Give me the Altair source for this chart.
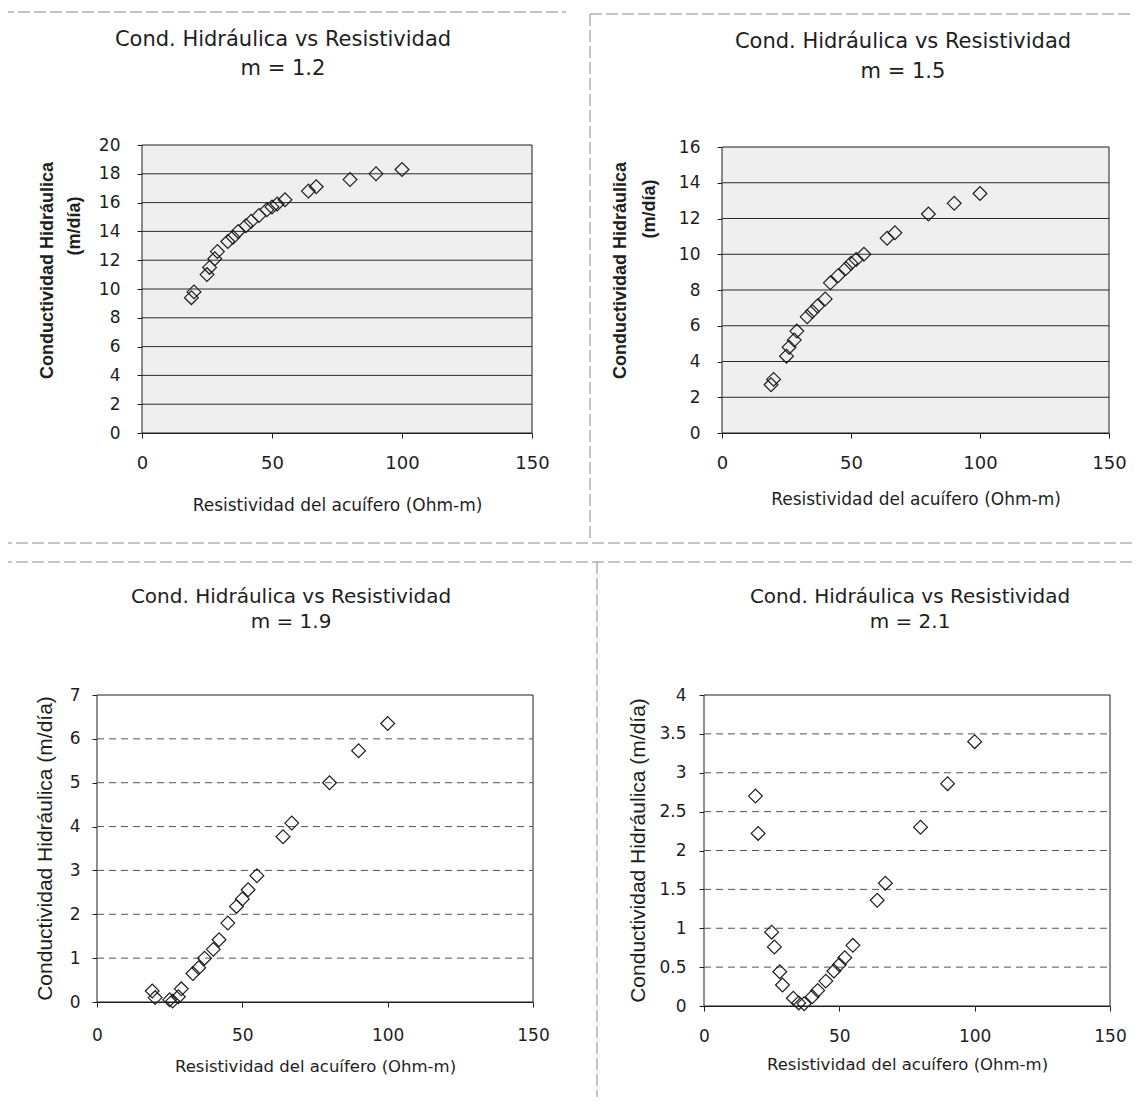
import altair as alt
import pandas as pd

# ---------------- data ----------------
rho = [19, 20, 25, 26, 28, 29, 33, 35, 37, 40, 42, 45, 48, 50, 52, 55, 64, 67, 80, 90, 100]
k_m12 = [9.4, 9.8, 11.0, 11.5, 12.1, 12.6, 13.3, 13.6, 14.0, 14.4, 14.7, 15.1, 15.5, 15.7, 15.9,
         16.2, 16.8, 17.1, 17.6, 18.0, 18.3]
k_m15 = [2.7, 3.0, 4.3, 4.8, 5.2, 5.7, 6.5, 6.8, 7.1, 7.5, 8.4, 8.8, 9.2, 9.5, 9.7,
         10.0, 10.9, 11.2, 12.25, 12.85, 13.4]
k_m19 = [0.25, 0.1, 0.05, 0.02, 0.12, 0.3, 0.65, 0.78, 1.0, 1.2, 1.42, 1.8, 2.18, 2.35, 2.56,
         2.88, 3.77, 4.08, 5.0, 5.73, 6.35]
k_m21 = [2.70, 2.22, 0.95, 0.76, 0.44, 0.27, 0.10, 0.04, 0.03, 0.12, 0.20, 0.32, 0.45, 0.53, 0.62,
         0.78, 1.36, 1.58, 2.30, 2.86, 3.40]

chart_title = "Cond. Hidráulica vs Resistividad"
m_labels = ["m = 1.2", "m = 1.5", "m = 1.9", "m = 2.1"]
x_title = "Resistividad del acuífero (Ohm-m)"
y_title = "Conductividad Hidráulica"
y_unit = "(m/día)"
x_ticks = [0, 50, 100, 150]
y_ticks_m12 = [0, 2, 4, 6, 8, 10, 12, 14, 16, 18, 20]
y_ticks_m15 = [0, 2, 4, 6, 8, 10, 12, 14, 16]
y_ticks_m19 = [0, 1, 2, 3, 4, 5, 6, 7]
y_ticks_m21 = [0, 0.5, 1, 1.5, 2, 2.5, 3, 3.5, 4]

# ---------------- layout ----------------
W, H = 1124, 1089
M = 8  # page margin


def P(v):
    return v - M


HF = "DejaVu Sans"
VF = "Liberation Sans"
INK = "#1e1e1e"


def panel(k, yt, box, fill, grid_color, grid_dash, ylab, xlab, ytitle):
    L, R, T, B = box
    ymax = yt[-1]
    xs = alt.Scale(domain=[0, 150], range=[P(L), P(R)], nice=False, zero=False)
    ys = alt.Scale(domain=[0, ymax], range=[P(B), P(T)], nice=False, zero=False)
    df_pts = pd.DataFrame({"rho": rho, "k": k})
    df_bg = pd.DataFrame({"x0": [0], "x1": [150], "y0": [0], "y1": [ymax]})
    df_grid = pd.DataFrame({"g": yt[1:-1]})
    df_grid["x0"] = 0
    df_grid["x1"] = 150

    yaxis = alt.Axis(
        orient="left", offset=-P(L), values=yt, format="~g", grid=False,
        domainColor=INK, tickColor=INK, tickSize=5,
        labelFont=HF, labelFontSize=ylab["size"], labelColor=INK, labelPadding=ylab["pad"],
        labelOverlap=False,
        title=ytitle["text"], titleFont=VF, titleFontSize=ytitle["size"],
        titleFontWeight=ytitle["weight"], titleColor=INK, titleAngle=270,
        titleBaseline="middle", titleAlign="center",
        titleX=ytitle["x"] - L, titleY=P(ytitle["y"]))
    xaxis = alt.Axis(
        orient="bottom", offset=P(B) - H, values=x_ticks, grid=False,
        domainColor=INK, tickColor=INK, tickSize=5, labelFlush=False, labelOverlap=False,
        labelFont=HF, labelFontSize=xlab["size"], labelColor=INK, labelPadding=xlab["pad"],
        title=x_title, titleFont=HF, titleFontSize=xlab["tsize"], titleFontWeight="normal",
        titleColor=INK, titleBaseline="middle", titleY=xlab["ty"] - B)

    bg = alt.Chart(df_bg).mark_rect(fill=fill, stroke=INK, strokeWidth=1).encode(
        x=alt.X("x0:Q", scale=xs, axis=xaxis, title=x_title), x2="x1:Q",
        y=alt.Y("y0:Q", scale=ys, axis=yaxis, title=ytitle["text"]), y2="y1:Q")

    rule_kw = dict(color=grid_color, strokeWidth=1)
    if grid_dash:
        rule_kw["strokeDash"] = grid_dash
    grid = alt.Chart(df_grid).mark_rule(**rule_kw).encode(
        x=alt.X("x0:Q", scale=xs, axis=xaxis, title=x_title), x2="x1:Q",
        y=alt.Y("g:Q", scale=ys, axis=yaxis, title=ytitle["text"]))

    pts = alt.Chart(df_pts).mark_point(
        shape="diamond", filled=False, size=190, stroke=INK, strokeWidth=1.2, opacity=1
    ).encode(
        x=alt.X("rho:Q", scale=xs, axis=xaxis, title=x_title),
        y=alt.Y("k:Q", scale=ys, axis=yaxis, title=ytitle["text"]))
    return alt.layer(bg, grid, pts)


p1 = panel(k_m12, y_ticks_m12, (142, 532, 145, 433), "#efefef", "#2a2a2a", None,
           dict(size=17, pad=17), dict(size=18, pad=16, tsize=17, ty=505),
           dict(text=y_title, size=18, weight="bold", x=47, y=270))
p2 = panel(k_m15, y_ticks_m15, (722, 1109, 147, 433), "#efefef", "#2a2a2a", None,
           dict(size=17, pad=17), dict(size=18, pad=16, tsize=17, ty=499),
           dict(text=y_title, size=18, weight="bold", x=620, y=270))
p3 = panel(k_m19, y_ticks_m19, (97, 533, 695, 1002), "#ffffff", "#555555", [7, 5],
           dict(size=17, pad=12), dict(size=17, pad=20, tsize=16.5, ty=1066),
           dict(text=y_title + " " + y_unit, size=21, weight="normal", x=45, y=848))
p4 = panel(k_m21, y_ticks_m21, (704, 1110, 695, 1006), "#ffffff", "#555555", [7, 5],
           dict(size=17, pad=13), dict(size=17, pad=17, tsize=16.5, ty=1064),
           dict(text=y_title + " " + y_unit, size=21, weight="normal", x=638, y=850))

one = pd.DataFrame({"a": [0]})


def text(t, x, y, size, weight="normal", angle=0, font=HF):
    return alt.Chart(one).mark_text(
        text=t, font=font, fontSize=size, fontWeight=weight, angle=angle,
        align="center", baseline="middle", color=INK
    ).encode(x=alt.value(P(x)), y=alt.value(P(y)))


titles = [
    text(chart_title, 283, 40, 21), text(m_labels[0], 283, 69, 21),
    text(chart_title, 903, 42, 21), text(m_labels[1], 903, 72, 21),
    text(chart_title, 291, 597, 20), text(m_labels[2], 291, 622, 20),
    text(chart_title, 910, 597, 20), text(m_labels[3], 910, 622, 20),
    text(y_unit, 75, 226, 18, "bold", 270, VF),
    text(y_unit, 650, 209, 18, "bold", 270, VF),
]


def hline(x1, x2, y):
    return alt.Chart(one).mark_rule(color="#8a8a8a", strokeWidth=1, strokeDash=[12, 4]).encode(
        x=alt.value(P(x1)), x2=alt.value(P(x2)), y=alt.value(P(y)))


def vline(x, y1, y2):
    return alt.Chart(one).mark_rule(color="#8a8a8a", strokeWidth=1, strokeDash=[12, 4]).encode(
        x=alt.value(P(x)), y=alt.value(P(y1)), y2=alt.value(P(y2)))


frames = [
    hline(2, 566, 12), vline(2, 12, 543), hline(0, 1132, 543),
    hline(590, 1132, 14), vline(590, 14, 540),
    hline(0, 1132, 562), vline(3, 562, 1097), vline(597, 562, 1097),
]

chart = alt.layer(p1, p2, p3, p4, *frames, *titles).resolve_scale(
    x="independent", y="independent"
).resolve_axis(
    x="independent", y="independent"
).properties(
    width=W, height=H, padding=0, autosize=alt.AutoSizeParams(type="none")
).configure_view(stroke=None)

chart.save("out.html", embed_options={"renderer": "svg", "actions": False})
